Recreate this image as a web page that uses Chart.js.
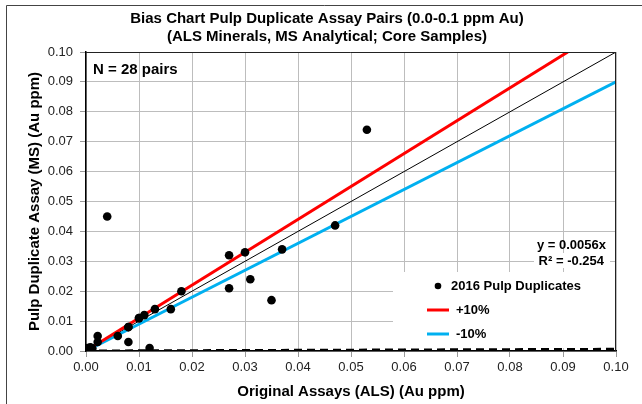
<!DOCTYPE html>
<html>
<head>
<meta charset="utf-8">
<script src="https://cdn.jsdelivr.net/npm/chart.js@4/dist/chart.umd.min.js"></script>
<style>
html,body{margin:0;padding:0;background:#fff;}
#wrap{position:relative;width:642px;height:404px;}
</style>
</head>
<body>
<div id="wrap"><canvas id="c" width="642" height="404"></canvas></div>
<script>
// ---- data ----
const titleLines = ["Bias Chart Pulp Duplicate Assay Pairs (0.0-0.1 ppm Au)", "(ALS Minerals, MS Analytical; Core Samples)"];
const xAxisTitle = "Original Assays (ALS) (Au ppm)";
const yAxisTitle = "Pulp Duplicate Assay (MS) (Au ppm)";
const nLabel = "N = 28 pairs";
const eqLines = ["y = 0.0056x", "R\u00B2 = -0.254"];
const seriesNames = ["2016 Pulp Duplicates", "+10%", "-10%"];

const originalAls = [0.0003, 0.001, 0.0012, 0.0008, 0.0022, 0.0022, 0.004, 0.006, 0.008, 0.008,
                     0.010, 0.011, 0.012, 0.013, 0.016, 0.018, 0.027, 0.027, 0.030, 0.031,
                     0.035, 0.037, 0.047, 0.053, 0.001, 0.0005, 0.008, 0.010];
const duplicateMs = [0.001, 0.001, 0.0008, 0.0012, 0.005, 0.003, 0.045, 0.005, 0.008, 0.003,
                     0.011, 0.012, 0.001, 0.014, 0.014, 0.020, 0.032, 0.021, 0.033, 0.024,
                     0.017, 0.034, 0.042, 0.074, 0.001, 0.0009, 0.008, 0.011];

const plus10X = [0.0015, 0.0909];
const plus10Y = [0.00165, 0.1];
const minus10X = [0.0015, 0.1];
const minus10Y = [0.00135, 0.09];
const oneToOneX = [0, 0.1];
const oneToOneY = [0, 0.1];
const trendX = [0, 0.1];
const trendY = [0, 0.00056];

const tickValues = [0, 0.01, 0.02, 0.03, 0.04, 0.05, 0.06, 0.07, 0.08, 0.09, 0.10];

// ---- build datasets ----
const pts = (xs, ys) => xs.map((x, i) => ({x: x, y: ys[i]}));
const FONT = "'Liberation Sans', Arial, sans-serif";

const overlay = {
  id: 'overlay',
  beforeDatasetsDraw(chart) {
    const ctx = chart.ctx;
    ctx.save();
    ctx.fillStyle = '#fff';
    ctx.fillRect(393, 272, 222, 76);   // legend box
    ctx.fillRect(534, 253, 76, 15);    // equation background
    ctx.restore();
  },
  afterDraw(chart) {
    const ctx = chart.ctx;
    const a = chart.chartArea;
    ctx.save();
    // outer frame
    ctx.strokeStyle = '#444';
    ctx.lineWidth = 1;
    ctx.beginPath();
    ctx.moveTo(6.5, 404); ctx.lineTo(6.5, 5.5); ctx.lineTo(642, 5.5);
    ctx.stroke();
    // plot border top/right
    ctx.strokeStyle = '#222';
    ctx.beginPath();
    ctx.moveTo(a.left, a.top + 0.5); ctx.lineTo(a.right - 0.5, a.top + 0.5); ctx.lineTo(a.right - 0.5, a.bottom);
    ctx.stroke();

    ctx.fillStyle = '#000';
    ctx.textBaseline = 'middle';
    // title
    ctx.font = 'bold 15px ' + FONT;
    ctx.textAlign = 'center';
    ctx.fillText(titleLines[0], 327, 19);
    ctx.fillText(titleLines[1], 327, 37);
    // axis titles
    ctx.fillText(xAxisTitle, (a.left + a.right) / 2, 392);
    ctx.save();
    ctx.translate(35, (a.top + a.bottom) / 2);
    ctx.rotate(-Math.PI / 2);
    ctx.fillText(yAxisTitle, 0, 0);
    ctx.restore();
    // N label
    ctx.textAlign = 'left';
    ctx.fillText(nLabel, 93, 70);
    // equation
    ctx.font = 'bold 13px ' + FONT;
    ctx.textAlign = 'right';
    ctx.fillText(eqLines[0], 606, 245);
    ctx.fillText(eqLines[1], 604, 261);
    // legend
    const ds = chart.data.datasets;
    ctx.textAlign = 'left';
    ctx.beginPath();
    ctx.fillStyle = ds[0].backgroundColor;
    ctx.arc(438, 286, 3.3, 0, Math.PI * 2);
    ctx.fill();
    ctx.fillStyle = '#000';
    ctx.fillText(seriesNames[0], 451, 286);
    ctx.lineWidth = 3;
    ctx.strokeStyle = ds[1].borderColor;
    ctx.beginPath(); ctx.moveTo(427, 310); ctx.lineTo(449, 310); ctx.stroke();
    ctx.fillText(seriesNames[1], 456, 310);
    ctx.strokeStyle = ds[2].borderColor;
    ctx.beginPath(); ctx.moveTo(427, 334); ctx.lineTo(449, 334); ctx.stroke();
    ctx.fillText(seriesNames[2], 456, 334);
    ctx.restore();
  }
};

new Chart(document.getElementById('c'), {
  type: 'scatter',
  data: {
    datasets: [
      { label: seriesNames[0], data: pts(originalAls, duplicateMs), backgroundColor: '#000', borderColor: '#000',
        pointRadius: 4.3, pointBorderWidth: 0, showLine: false, order: 0 },
      { label: seriesNames[1], data: pts(plus10X, plus10Y), borderColor: '#ff0000', borderWidth: 3,
        showLine: true, pointRadius: 0, order: 2 },
      { label: seriesNames[2], data: pts(minus10X, minus10Y), borderColor: '#00b0f0', borderWidth: 3,
        showLine: true, pointRadius: 0, order: 2 },
      { label: '1:1', data: pts(oneToOneX, oneToOneY), borderColor: '#000', borderWidth: 1,
        showLine: true, pointRadius: 0, order: 3 },
      { label: 'trend', data: pts(trendX, trendY), borderColor: '#000', borderWidth: 3, borderDash: [8, 5],
        showLine: true, pointRadius: 0, order: 1 }
    ]
  },
  options: {
    responsive: false,
    animation: false,
    layout: { padding: { left: 0, right: 26, top: 52, bottom: 0 } },
    plugins: { legend: { display: false }, title: { display: false }, tooltip: { enabled: false } },
    scales: {
      x: {
        type: 'linear', min: 0, max: 0.1,
        afterBuildTicks: s => { s.ticks = tickValues.map(v => ({value: v})); },
        afterFit: s => { s.height = 53; },
        ticks: { callback: v => Number(v).toFixed(2), font: { family: FONT, size: 13 }, color: '#222', padding: 3, maxRotation: 0 },
        grid: { color: '#bdbdbd', lineWidth: 1, tickLength: 6, tickColor: '#999' },
        border: { display: true, color: '#000', width: 1.5 }
      },
      y: {
        type: 'linear', min: 0, max: 0.1,
        afterBuildTicks: s => { s.ticks = tickValues.map(v => ({value: v})); },
        afterFit: s => { s.width = 86; },
        ticks: { callback: v => Number(v).toFixed(2), font: { family: FONT, size: 13 }, color: '#222', padding: 7 },
        grid: { color: '#bdbdbd', lineWidth: 1, tickLength: 6, tickColor: '#999' },
        border: { display: true, color: '#000', width: 1.5 }
      }
    }
  },
  plugins: [overlay]
});
</script>
</body>
</html>
